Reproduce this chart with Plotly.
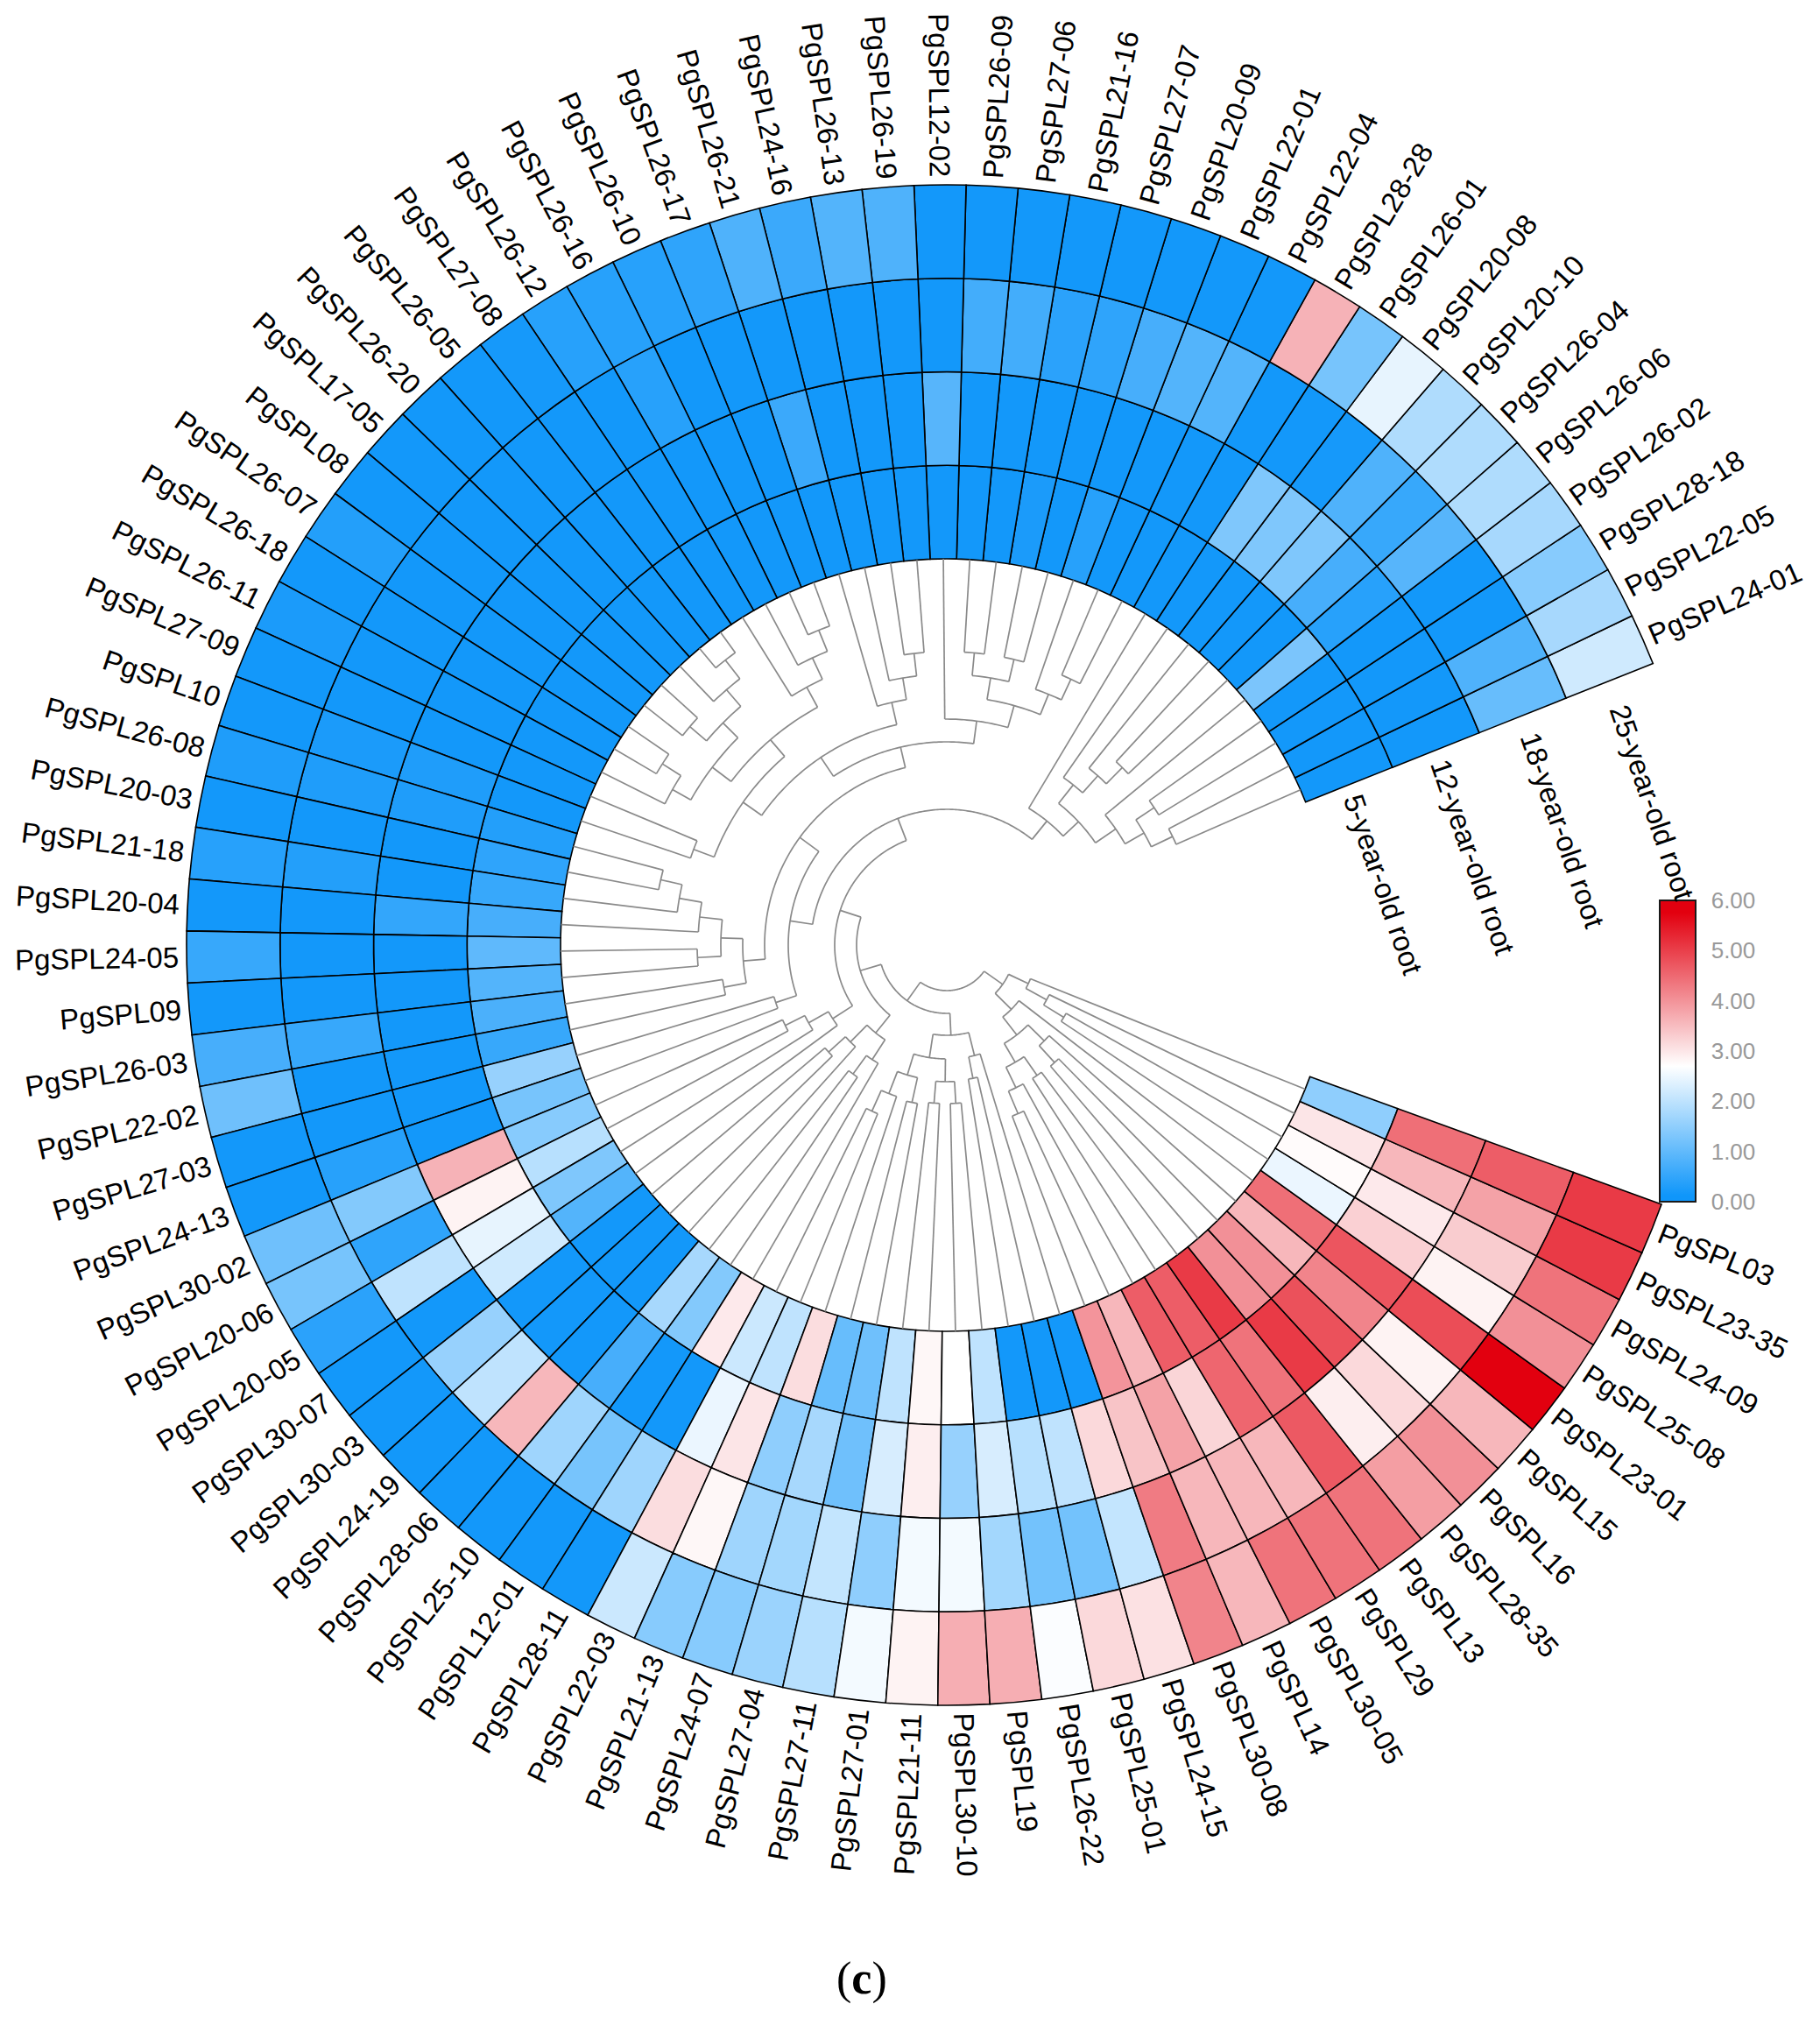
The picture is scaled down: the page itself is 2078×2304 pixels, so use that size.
import math
import plotly.graph_objects as go

labels = ["PgSPL24-01","PgSPL22-05","PgSPL28-18","PgSPL26-02","PgSPL26-06","PgSPL26-04","PgSPL20-10","PgSPL20-08","PgSPL26-01","PgSPL28-28",
"PgSPL22-04","PgSPL22-01","PgSPL20-09","PgSPL27-07","PgSPL21-16","PgSPL27-06","PgSPL26-09","PgSPL12-02","PgSPL26-19","PgSPL26-13",
"PgSPL24-16","PgSPL26-21","PgSPL26-17","PgSPL26-10","PgSPL26-16","PgSPL26-12","PgSPL27-08","PgSPL26-05","PgSPL26-20","PgSPL17-05",
"PgSPL08","PgSPL26-07","PgSPL26-18","PgSPL26-11","PgSPL27-09","PgSPL10","PgSPL26-08","PgSPL20-03","PgSPL21-18","PgSPL20-04",
"PgSPL24-05","PgSPL09","PgSPL26-03","PgSPL22-02","PgSPL27-03","PgSPL24-13","PgSPL30-02","PgSPL20-06","PgSPL20-05","PgSPL30-07",
"PgSPL30-03","PgSPL24-19","PgSPL28-06","PgSPL25-10","PgSPL12-01","PgSPL28-11","PgSPL22-03","PgSPL21-13","PgSPL24-07","PgSPL27-04",
"PgSPL27-11","PgSPL27-01","PgSPL21-11","PgSPL30-10","PgSPL19","PgSPL26-22","PgSPL25-01","PgSPL24-15","PgSPL30-08","PgSPL14",
"PgSPL30-05","PgSPL29","PgSPL13","PgSPL28-35","PgSPL16","PgSPL15","PgSPL23-01","PgSPL25-08","PgSPL24-09","PgSPL23-35","PgSPL03"]

ring_names = ["5-year-old root","12-year-old root","18-year-old root","25-year-old root"]

root_5y = [.16,.16,.16,.16,1.28,.16,.16,.16,.16,.16,.16,.16,.38,.16,.25,.16,.16,.16,.16,.16,
.16,.16,.16,.16,.16,.16,.16,.16,.16,.16,.16,.16,.16,.16,.16,.16,.34,.46,.55,.72,
.98,.85,.77,.55,1.58,1.24,1.41,1.93,1.32,.85,.16,.16,.16,1.75,1.37,2.96,2.14,2.01,3.11,1.07,
1.15,2.01,2.8,2.7,2.01,.16,.16,.16,3.98,3.57,4.64,4.64,5.06,4.03,4.03,3.57,4.43,2.49,2.75,3.01,1.5]

root_12y = [.16,.16,.16,.16,.38,.72,1.32,1.32,1.32,.16,.16,.16,.16,.16,.16,.16,.16,.89,.16,.16,
.16,.59,.16,.16,.16,.16,.16,.16,.16,.16,.16,.16,.16,.16,.16,.29,.29,.16,.16,.51,
.16,.16,.16,.16,.16,.16,3.62,2.85,2.44,2.18,.16,.16,.16,.72,.16,.16,2.49,3.01,1.5,1.75,
1.15,2.27,2.9,1.58,2.27,1.93,2.01,3.16,3.41,3.82,3.21,4.54,4.38,5.06,4.79,4.18,4.74,3.26,2.96,3.57,4.43]

root_18y = [1.07,.81,.16,.16,.89,.55,.81,.2,.16,.16,.85,.85,.72,.46,.42,.68,.68,.16,.16,.16,
.16,.16,.16,.16,.38,.16,.16,.16,.16,.16,.16,.16,.16,.16,.16,.25,.29,.16,.34,.16,
.16,.16,.55,.16,.16,.38,1.37,.46,2.01,.16,1.58,2.01,3.57,1.67,1.24,1.67,3.11,2.8,1.67,1.71,
2.06,1.5,2.57,2.57,1.71,1.2,1.2,2.06,4.28,3.57,3.57,3.57,4.69,2.9,3.16,2.85,4.84,2.85,3.31,3.82,4.64]

root_25y = [2.18,1.75,1.41,1.75,1.84,1.84,1.84,2.44,1.24,3.62,.16,.16,.16,.16,.16,.16,.16,.16,.81,.85,
.59,.81,.46,.38,.38,.38,.2,.16,.16,.16,.16,.34,.16,.25,.16,.16,.29,.16,.38,.16,
.55,.16,.72,1.15,.16,.16,1.15,1.24,.42,.16,.16,.16,.16,.16,.16,.16,2.14,1.41,1.41,1.63,
1.93,2.57,2.85,3.67,3.67,2.66,3.16,3.06,4.18,3.57,4.38,4.38,4.38,3.87,4.03,3.57,5.8,4.03,4.38,5.06,5.06]

rings = [root_5y, root_12y, root_18y, root_25y]

# dendrogram: (radius of the joining arc, child, child); integers are leaf indices
d_a = (259, (286,0,1), (284,2,3))
d_b = (234, d_a, 4)
d_c = (233, (259, (285,5,6), 7), 8)
d_d = (182, 9, (206, d_c, d_b))
d_e = (258, 17, (284, (309,(335,15,16),(335,13,14)), (309,12,(335,10,11))))
d_f = (309, (336, (360,33,(385,32,31)), (360,(385,30,29),(385,28,(412,27,26)))), (335,25,(362,24,(388,23,22))))
d_g = (258, (284,(309,35,34), d_f), (284,21,(309,20,(335,19,18))))
d_h = (233, (258,(284,39,(310,38,(335,37,36))),(285,40,41)), (259,42,43))
d_i = (181, (208,(232,d_g,d_e), d_h), (206,44,45))
d_j = (128, (155,d_d,d_i), (155,(181,(206,46,47),48),49))
d_k = (129, (156,(182,50,51),52), (156,(182,53,54),55))
d_l = (130, (155,(182,(208,56,57),58),(184,59,60)), (156,(181,61,62),(181,63,64)))
d_m = (130, (155,(181,(209,68,69),70),(181,71,72)), (156,(182,73,74),75))
tree = (52, (78,(103,d_j,d_k),(103,d_l,(130,(155,65,66),67))),
            (78,(104,d_m,76),(103,(130,(157,77,78),79),80)))

colour_stops = [[0,"#0F96FA"],[0.02,"#0F96FA"],[0.45,"#FFFFFF"],[0.96,"#E2000F"],[1,"#E2000F"]]
W,H = 2078,2304
CX,CY = 1081,1079
R_IN,R_OUT = 441,868
R_MAX = 950
START,STEP = 23.7,3.93
thetas = [START+STEP*i for i in range(len(labels))]
ring_w = (R_OUT-R_IN)/4
FONT = "Liberation Sans, Arial, sans-serif"

fig = go.Figure()
for j,vals in enumerate(rings):
    fig.add_trace(go.Barpolar(theta=thetas, r=[ring_w]*len(vals), base=R_IN+j*ring_w, width=STEP,
        marker=dict(color=vals, coloraxis="coloraxis", line=dict(color="#000000", width=1.6)),
        name=ring_names[j], showlegend=False))

rs,ts = [],[]
def walk(n):
    if isinstance(n,int):
        return thetas[n], R_IN
    r = n[0]
    kids = [walk(c) for c in n[1:]]
    a = [k[0] for k in kids]
    for th,rc in kids:
        rs.extend([rc,r,None]); ts.extend([th,th,None])
    lo,hi = min(a),max(a)
    m = max(2,int((hi-lo)/0.7))
    rs.extend([r]*(m+1)+[None]); ts.extend([lo+(hi-lo)*i/m for i in range(m+1)]+[None])
    return (lo+hi)/2, r
walk(tree)
fig.add_trace(go.Scatterpolar(r=rs,theta=ts,mode="lines",line=dict(color="#8A8A8A",width=1.7),
    showlegend=False,hoverinfo="skip"))

AW = {"P":.667,"g":.556,"S":.667,"L":.556,"-":.333}
LFS = 33
ann = []
for name,th in zip(labels,thetas):
    w = sum(AW.get(c,.556) for c in name)*LFS
    rc = R_OUT+9+w/2
    x = CX+rc*math.cos(math.radians(th)); y = CY-rc*math.sin(math.radians(th))
    t = th%360
    ang = -t if (t<90 or t>270) else 180-t
    ann.append(dict(x=x/W,y=1-y/H,xref="paper",yref="paper",text=name,textangle=ang,showarrow=False,
        xanchor="center",yanchor="middle",font=dict(family=FONT,size=LFS,color="#000000")))
edge = START-STEP/2
ex,ey = math.cos(math.radians(edge)),math.sin(math.radians(edge))
for j,name in enumerate(ring_names):
    rc = R_IN+(j+.5)*ring_w-6
    off = 120+9*j
    x = CX+rc*ex+off*ey; y = CY-(rc*ey-off*ex)
    ann.append(dict(x=x/W,y=1-y/H,xref="paper",yref="paper",text=name,textangle=71,showarrow=False,
        xanchor="center",yanchor="middle",font=dict(family=FONT,size=33,color="#000000")))
ann.append(dict(x=984/W,y=1-2259/H,xref="paper",yref="paper",text="(<b>c</b>)",showarrow=False,
    xanchor="center",yanchor="middle",font=dict(family="Liberation Serif, serif",size=52,color="#000000")))

fig.update_layout(width=W,height=H,autosize=False,margin=dict(l=0,r=0,t=0,b=0),paper_bgcolor="white",
    annotations=ann,
    polar=dict(domain=dict(x=[(CX-R_MAX)/W,(CX+R_MAX)/W],y=[1-(CY+R_MAX)/H,1-(CY-R_MAX)/H]),
        bgcolor="rgba(0,0,0,0)",bargap=0,
        radialaxis=dict(range=[0,R_MAX],visible=False,showgrid=False),
        angularaxis=dict(visible=False,showgrid=False,direction="counterclockwise",rotation=0)),
    coloraxis=dict(cmin=0,cmax=6,colorscale=colour_stops,
        colorbar=dict(x=1895/W,xanchor="left",xref="paper",y=1-1372/H,yanchor="bottom",yref="paper",
            len=344/H,lenmode="fraction",thickness=41,thicknessmode="pixels",
            tickvals=[0,1,2,3,4,5,6],ticktext=["0.00","1.00","2.00","3.00","4.00","5.00","6.00"],
            ticks="outside",ticklen=12,tickcolor="rgba(0,0,0,0)",outlinecolor="#1a1a1a",outlinewidth=2,ypad=0,xpad=0,
            tickfont=dict(family=FONT,size=26,color="#999999"))))
fig.write_html("out.html",config={"displayModeBar":False},post_script="document.body.style.margin='0';")
